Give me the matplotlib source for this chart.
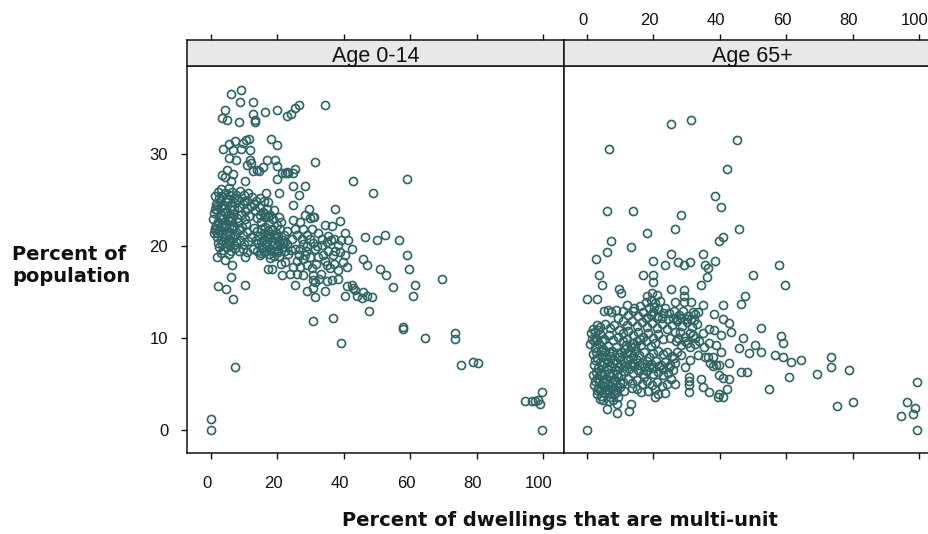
import numpy as np
import matplotlib
matplotlib.use("Agg")
import matplotlib.pyplot as plt
from matplotlib.transforms import ScaledTranslation

plt.rcParams['font.family'] = ['Liberation Sans', 'DejaVu Sans']

panel_titles = ["Age 0-14", "Age 65+"]
x_ticks = [0, 20, 40, 60, 80, 100]
y_ticks = [0, 10, 20, 30]
x_label = "Percent of dwellings that are multi-unit"
y_label = "Percent of\npopulation"

# (percent multi-unit, percent of population)
age_0_14 = [
    (5.9, 36.5), (9.0, 37.0), (8.9, 35.7), (12.6, 35.7), (4.2, 34.8), (3.4, 33.9), (4.9, 33.7),
    (8.4, 33.5), (12.6, 34.4), (13.3, 33.5), (13.4, 33.7), (16.3, 34.6), (19.9, 34.8), (22.8, 34.1),
    (24.1, 34.4), (25.4, 35.0), (26.6, 35.4), (34.3, 35.4), (18.1, 31.7), (20.0, 31.0), (3.5, 30.6),
    (5.5, 31.1), (7.2, 31.4), (9.7, 31.2), (10.7, 31.5), (11.4, 31.7), (9.2, 30.6), (11.7, 30.5),
    (6.7, 30.5), (5.5, 29.6), (7.5, 29.4), (11.7, 29.4), (16.9, 29.4), (19.3, 29.4), (31.3, 29.1),
    (19.8, 28.7), (11.0, 28.8), (12.0, 29.0), (13.8, 28.3), (12.6, 28.2), (14.6, 28.2), (15.6, 28.6),
    (22.3, 27.9), (21.4, 28.0), (22.8, 28.1), (23.2, 27.9), (24.6, 28.0), (25.2, 28.4), (4.7, 28.3),
    (3.2, 27.7), (6.7, 27.8), (4.2, 27.5), (5.9, 27.1), (10.2, 27.1), (19.8, 27.3), (42.8, 27.1),
    (59.1, 27.3), (48.9, 25.8), (24.8, 26.5), (28.3, 26.5), (26.5, 25.6), (20.5, 25.8), (16.5, 25.8),
    (24.8, 24.5), (29.5, 24.0), (37.3, 24.0), (30.8, 23.2), (38.9, 22.7), (34.3, 22.3), (36.5, 22.2),
    (46.4, 21.0), (49.9, 20.6), (52.4, 21.2), (56.6, 20.6), (1.2, 21.7), (1.9, 18.8), (4.2, 18.5),
    (6.2, 17.9), (10.2, 18.8), (6.0, 16.6), (2.2, 15.6), (4.4, 15.3), (10.2, 15.7), (6.5, 14.2),
    (7.2, 6.8), (0.0, 1.1), (0.0, 0.0), (99.6, 4.1), (94.6, 3.1), (96.6, 3.1), (97.6, 3.1),
    (98.6, 3.2), (99.1, 2.8), (99.6, 0.0), (73.5, 10.5), (73.5, 9.9), (75.3, 7.0), (78.8, 7.4),
    (80.3, 7.2), (64.5, 10.0), (57.9, 11.0), (57.9, 11.2), (39.2, 9.4), (30.8, 11.8), (36.7, 12.2),
    (47.7, 12.9), (69.5, 16.4), (61.5, 15.7), (60.9, 14.6), (59.7, 17.5), (59.1, 19.0), (54.9, 15.5),
    (50.9, 17.5), (52.6, 16.8), (47.1, 17.9), (45.7, 18.6), (48.4, 14.4), (40.4, 14.6), (40.9, 15.6),
    (42.4, 15.7), (43.4, 15.2), (43.9, 14.5), (45.4, 14.3), (45.9, 15.0), (46.9, 14.6), (42.8, 15.4),
    (34.3, 15.1), (31.3, 14.4), (28.8, 15.1), (25.3, 15.7), (34.8, 16.2), (38.2, 16.4), (30.8, 16.8),
    (31.3, 16.1), (30.8, 15.4), (21.3, 16.8), (17.3, 17.5), (18.3, 17.5), (23.8, 17.0), (40.4, 21.4),
    (41.4, 20.6), (39.3, 20.6), (42.4, 19.7), (40.4, 19.0), (39.9, 18.3), (40.9, 17.7), (38.3, 17.4),
    (36.4, 16.3), (34.8, 17.9), (35.8, 17.6), (30.8, 16.3), (27.8, 16.8), (25.8, 17.0), (24.8, 17.7),
    (26.8, 17.7), (28.8, 17.9), (27.8, 18.6), (29.8, 18.8), (32.3, 18.8), (33.8, 19.0), (35.3, 19.4),
    (37.3, 19.5), (31.3, 19.7), (26.8, 19.7), (25.3, 19.7), (24.3, 20.8), (27.3, 20.8), (29.8, 20.8),
    (33.3, 20.8), (36.3, 20.6), (25.3, 21.9), (27.8, 21.9), (30.3, 21.9), (32.3, 21.4), (29.8, 23.0),
    (28.3, 23.4), (31.0, 23.2), (24.8, 22.8), (26.8, 22.6), (28.2, 19.0), (29.0, 20.0), (26.0, 18.4),
    (22.4, 18.2), (23.2, 19.1), (21.0, 18.0), (19.0, 18.9), (20.3, 19.3), (17.8, 18.7), (16.2, 19.4),
    # dense block
    (1.1, 25.4), (2.0, 25.9), (3.1, 26.2), (4.2, 25.8), (5.3, 26.3), (6.4, 25.9), (7.6, 25.5),
    (8.7, 26.0), (9.9, 25.6), (11.2, 25.8), (12.4, 25.3), (13.6, 24.9), (14.9, 25.2), (1.4, 24.6),
    (2.6, 24.9), (3.7, 24.5), (4.9, 24.8), (6.1, 24.3), (7.3, 24.7), (8.5, 24.2), (9.6, 24.6),
    (10.8, 24.1), (12.0, 24.4), (13.2, 23.9), (14.4, 24.2), (15.6, 23.7), (16.8, 24.0), (17.9, 23.4),
    (0.8, 23.6), (1.9, 23.9), (3.1, 23.4), (4.3, 23.7), (5.5, 23.2), (6.7, 23.5), (7.8, 23.0),
    (9.1, 23.4), (10.3, 22.9), (11.4, 23.3), (14.0, 23.0), (15.2, 22.6), (16.4, 23.1), (17.6, 22.5),
    (18.8, 22.9), (19.9, 22.3), (0.7, 22.9), (2.2, 22.6), (3.4, 22.9), (4.6, 22.4), (5.9, 22.7),
    (7.1, 22.2), (8.3, 22.6), (9.5, 22.1), (10.7, 22.4), (15.0, 21.8), (16.2, 22.1), (17.3, 21.6),
    (18.5, 21.9), (19.7, 21.4), (20.9, 21.8), (22.0, 21.2), (1.2, 22.0), (2.5, 21.7), (3.6, 22.1),
    (4.9, 21.5), (6.2, 21.8), (7.4, 21.3), (8.6, 21.7), (9.8, 21.2), (11.0, 21.5), (12.2, 21.0),
    (14.6, 21.1), (15.8, 20.7), (17.0, 21.0), (18.2, 20.5), (19.4, 20.9), (20.6, 20.4), (21.8, 20.7),
    (23.0, 20.2), (1.7, 21.0), (2.9, 20.7), (4.1, 21.0), (5.3, 20.5), (6.5, 20.9), (7.7, 20.4),
    (8.9, 20.7), (10.1, 20.2), (11.3, 20.5), (14.2, 20.3), (15.4, 19.9), (16.6, 20.2), (17.8, 19.7),
    (19.0, 20.1), (20.2, 19.6), (21.4, 19.9), (2.4, 19.9), (3.6, 19.6), (4.8, 19.9), (6.0, 19.5),
    (7.2, 19.8), (8.4, 19.4), (9.6, 19.7), (10.8, 19.3), (13.9, 19.5), (15.0, 19.2), (1.3, 24.0),
    (5.1, 25.1), (8.1, 25.0), (11.0, 24.9), (0.9, 21.4), (3.0, 19.2), (5.5, 19.1), (13.0, 22.0),
    (13.5, 20.6), (12.8, 19.7), (14.8, 19.0), (7.0, 24.0), (10.2, 23.8), (15.9, 24.9), (17.2, 24.8),
    (18.9, 23.9), (20.4, 23.2), (21.2, 22.6), (22.8, 21.6), (24.0, 19.6), (22.2, 19.4),
    (2.3, 25.2), (3.4, 25.4), (4.5, 25.2), (5.8, 25.5), (6.9, 25.2), (1.8, 24.3), (3.0, 24.2),
    (4.2, 24.1), (5.6, 24.0), (2.4, 23.1), (3.7, 23.0), (5.0, 22.9), (6.2, 23.0), (1.6, 22.3),
    (2.9, 22.2), (4.1, 22.1), (5.4, 22.1), (6.6, 22.2), (1.9, 21.4), (3.2, 21.3), (4.4, 21.3),
    (5.7, 21.2), (7.0, 21.1), (2.2, 20.3), (3.4, 20.2), (4.6, 20.3), (5.8, 20.1), (7.1, 20.1),
    (16.0, 21.4), (17.6, 21.3), (19.0, 21.2), (20.2, 21.1), (15.2, 20.4), (16.9, 20.4), (18.5, 20.1),
    (20.0, 20.0), (21.6, 20.3), (16.1, 19.3), (17.4, 19.1), (18.9, 19.5), (20.6, 18.9), (22.3, 20.4),
    (14.8, 23.4), (16.2, 23.5), (17.3, 23.1), (13.8, 21.6), (12.9, 24.6), (10.0, 24.9), (26.0, 21.2),
    (27.6, 20.2), (29.0, 21.2), (26.4, 19.0), (28.6, 19.4), (30.8, 20.3), (31.9, 20.0), (33.4, 20.1),
    (34.8, 20.4), (35.2, 21.1), (37.2, 20.8), (38.4, 20.1), (39.0, 19.3), (36.8, 19.0), (34.4, 18.4),
    (31.6, 18.0), (30.4, 17.6), (33.2, 17.0), (32.4, 16.4), (37.2, 18.0),
]

age_65 = [
    (25.3, 33.3), (31.4, 33.7), (45.3, 31.5), (6.7, 30.6), (42.1, 28.4), (38.5, 25.4), (40.3, 24.2),
    (6.1, 23.8), (13.9, 23.8), (28.4, 23.4), (26.5, 21.9), (18.1, 21.4), (45.9, 21.9), (40.9, 21.0),
    (39.7, 20.5), (7.3, 20.5), (13.3, 19.9), (6.1, 19.3), (25.3, 19.1), (34.8, 19.1), (2.6, 18.6),
    (19.9, 18.4), (23.5, 17.9), (27.4, 18.2), (29.1, 17.9), (30.9, 18.2), (35.4, 17.9), (36.4, 17.6),
    (38.6, 18.4), (57.8, 17.9), (50.0, 16.8), (59.7, 15.7), (3.7, 16.8), (4.4, 15.7), (16.9, 16.8),
    (19.9, 16.8), (19.9, 16.1), (36.2, 16.6), (34.4, 15.7), (25.4, 15.3), (29.1, 15.2), (29.1, 14.5),
    (29.1, 13.9), (9.7, 15.3), (10.4, 14.9), (0.1, 14.2), (3.1, 14.2), (47.7, 14.6), (46.5, 13.7),
    (40.9, 13.6), (34.9, 13.6), (31.4, 13.9), (26.4, 13.9), (38.4, 12.6), (40.9, 12.0), (42.9, 11.6),
    (43.4, 10.6), (40.4, 10.3), (52.3, 11.1), (46.9, 10.0), (45.7, 8.9), (48.9, 8.3), (50.7, 9.2),
    (52.3, 8.5), (58.5, 10.2), (59.1, 9.4), (56.7, 8.1), (59.1, 7.9), (61.5, 7.4), (64.5, 7.6),
    (73.5, 7.9), (73.5, 6.8), (78.9, 6.5), (69.3, 6.1), (60.9, 5.7), (54.7, 4.4), (46.5, 6.3),
    (48.1, 6.3), (42.9, 7.2), (42.9, 5.5), (42.3, 4.4), (75.3, 2.6), (80.1, 3.0), (99.3, 5.2),
    (96.3, 3.0), (98.7, 2.4), (98.1, 1.7), (94.5, 1.5), (99.3, 0.0), (0.0, 0.0), (40.9, 3.6),
    (39.4, 3.6), (39.9, 3.9), (36.9, 4.1), (34.9, 4.6), (34.4, 5.5), (30.7, 4.1), (30.7, 5.7),
    (30.7, 5.3), (30.7, 4.9), (26.4, 5.0), (25.4, 5.5), (21.5, 3.9), (20.4, 3.5), (16.4, 4.1),
    (13.3, 2.8), (12.7, 2.0), (9.1, 1.8), (9.1, 2.8), (6.1, 2.2), (4.9, 3.2), (39.9, 5.9),
    (40.9, 5.6), (38.9, 7.0), (39.9, 7.0), (37.9, 7.9), (36.4, 7.9), (33.4, 8.1), (30.9, 7.6),
    (40.4, 8.5), (38.9, 9.2), (29.4, 6.8), (34.9, 10.5), (36.9, 11.0), (38.4, 10.9), (32.4, 12.6),
    (33.4, 12.8), (37.0, 7.2), (38.0, 6.9), (35.6, 7.9), (36.8, 9.4), (35.1, 9.0), (33.6, 9.6),
    # dense block
    (18.2, 14.6), (19.6, 14.9), (21.0, 14.7), (17.8, 13.9), (19.2, 14.1), (20.6, 13.8), (22.0, 14.0),
    (12.0, 13.6), (14.2, 13.2), (23.4, 13.2), (24.8, 12.7), (11.0, 12.9), (12.5, 12.5), (14.0, 12.9),
    (15.5, 12.4), (17.0, 12.8), (18.5, 12.3), (20.0, 12.8), (21.5, 12.4), (23.0, 12.7), (26.2, 12.9),
    (27.6, 12.5), (29.0, 12.9), (30.4, 12.4), (31.8, 12.8), (7.4, 12.8), (5.2, 12.9), (9.4, 12.2),
    (10.8, 11.8), (12.2, 11.4), (13.7, 11.8), (15.2, 11.3), (16.7, 11.7), (18.2, 11.2), (19.7, 11.6),
    (21.2, 11.1), (22.7, 11.5), (24.2, 11.0), (25.7, 11.4), (27.2, 11.8), (28.7, 11.3), (30.2, 11.7),
    (31.7, 11.2), (33.0, 11.5), (3.0, 11.4), (1.9, 11.0), (4.0, 11.2), (5.4, 11.5), (6.8, 11.1),
    (8.2, 11.4), (9.6, 10.9), (11.0, 10.5), (12.5, 10.7), (14.0, 10.3), (15.5, 10.6), (17.0, 10.1),
    (18.5, 10.5), (20.0, 10.0), (21.5, 10.4), (23.0, 9.9), (25.0, 10.0), (28.0, 10.6), (29.5, 10.1),
    (31.0, 10.5), (32.5, 10.0), (1.3, 10.5), (2.6, 10.0), (3.9, 10.4), (5.2, 9.9), (6.6, 10.3),
    (8.0, 9.8), (9.4, 10.1), (10.8, 9.6), (12.2, 9.9), (13.6, 9.4), (15.0, 9.7), (16.4, 9.2),
    (17.8, 9.6), (19.2, 9.1), (20.6, 9.4), (26.8, 9.7), (28.2, 9.2), (29.6, 9.6), (31.0, 9.0),
    (32.4, 9.3), (1.0, 9.3), (2.3, 8.9), (3.6, 9.3), (4.9, 8.8), (6.2, 9.1), (7.5, 8.6),
    (8.8, 9.0), (10.2, 8.5), (11.6, 8.8), (13.0, 8.3), (14.4, 8.6), (15.8, 8.1), (17.2, 8.4),
    (18.6, 7.9), (20.0, 8.3), (21.4, 8.6), (22.8, 8.2), (24.2, 8.5), (25.6, 8.0), (27.0, 8.4),
    (28.4, 8.1), (1.8, 8.2), (3.1, 7.8), (4.4, 8.1), (5.7, 7.7), (7.0, 8.0), (8.3, 7.6),
    (9.6, 7.9), (11.0, 7.5), (12.4, 7.7), (13.8, 7.3), (15.2, 7.6), (16.6, 7.2), (18.0, 7.5),
    (19.4, 7.1), (20.8, 7.5), (22.2, 7.0), (23.6, 7.4), (25.0, 7.0), (26.4, 7.3), (2.0, 7.0),
    (3.3, 6.7), (4.6, 7.0), (5.9, 6.6), (7.2, 6.9), (8.5, 6.5), (9.8, 6.8), (11.2, 6.4),
    (12.6, 6.6), (14.0, 6.2), (15.4, 6.5), (16.8, 6.1), (18.2, 6.4), (19.8, 6.0), (21.4, 6.3),
    (23.0, 5.9), (1.7, 5.9), (3.0, 5.6), (4.3, 5.9), (5.6, 5.5), (6.9, 5.8), (8.2, 5.4),
    (9.5, 5.7), (10.9, 5.2), (12.3, 5.5), (13.7, 5.1), (15.1, 5.4), (16.6, 5.0), (18.0, 5.3),
    (19.5, 4.9), (21.0, 5.2), (22.5, 4.7), (2.1, 4.9), (3.4, 4.5), (4.7, 4.8), (6.0, 4.4),
    (7.3, 4.7), (8.6, 4.3), (9.9, 4.6), (11.2, 4.2), (13.6, 4.5), (15.0, 4.4), (18.4, 4.2),
    (2.9, 3.9), (4.2, 3.7), (5.5, 4.0), (6.8, 3.6), (8.1, 3.9), (9.4, 3.6), (3.8, 3.3),
    (6.6, 3.1), (7.9, 3.2), (23.5, 4.0), (24.4, 6.2), (6.4, 13.0), (8.8, 13.0), (16.0, 13.5),
    (2.4, 7.6), (3.9, 7.4), (5.1, 7.3), (6.4, 7.4), (7.8, 7.2), (9.1, 7.3), (10.4, 7.1),
    (2.7, 6.3), (4.0, 6.2), (5.3, 6.1), (6.5, 6.2), (7.8, 6.0), (9.1, 6.1), (10.4, 5.9),
    (2.5, 5.3), (3.7, 5.2), (5.0, 5.1), (6.3, 5.0), (7.6, 5.2), (8.9, 5.0), (10.1, 5.1),
    (3.1, 4.3), (4.3, 4.3), (5.4, 4.6), (6.7, 4.2), (8.0, 4.5), (9.2, 4.1), (11.5, 6.9),
    (12.9, 7.1), (14.3, 6.9), (15.7, 7.0), (17.1, 6.8), (18.6, 6.8), (20.0, 6.7), (21.6, 6.9),
    (23.0, 6.6), (24.6, 6.8), (25.8, 6.5), (26.2, 7.8), (12.2, 8.3), (13.8, 8.0), (2.8, 8.5),
    (4.1, 8.6), (5.4, 8.4), (6.6, 8.5), (9.2, 8.3), (2.0, 9.6), (3.1, 9.8), (4.4, 9.6),
    (1.4, 9.9), (2.3, 10.6), (3.4, 10.8), (17.8, 12.1), (19.2, 12.5), (21.0, 12.2), (22.6, 12.1),
    (24.4, 12.0), (25.8, 12.2), (27.0, 12.0), (28.4, 12.2), (30.0, 12.0), (31.2, 12.0), (32.2, 11.9),
    (18.8, 13.2), (20.2, 13.3), (21.4, 13.1), (26.6, 10.6), (27.4, 10.0), (30.2, 9.4), (31.8, 10.3),
    (11.8, 9.2), (13.2, 9.0), (14.6, 9.1), (16.0, 9.9), (24.0, 5.0), (20.6, 4.4), (17.2, 5.7),
]

panels = [age_0_14, age_65]
point_colour = "#2f6464"
dark = "#111111"

W, H = 929, 534
PANEL_W, PANEL_H, STRIP_H = 377, 387, 26
PANEL_BOTTOM = H - 453
fig = plt.figure(figsize=(W / 100, H / 100), dpi=100)

for i, (title, points) in enumerate(zip(panel_titles, panels)):
    left = 187 + i * PANEL_W
    ax = fig.add_axes([left / W, PANEL_BOTTOM / H, PANEL_W / W, PANEL_H / H])
    strip = fig.add_axes([left / W, (PANEL_BOTTOM + PANEL_H) / H, PANEL_W / W, STRIP_H / H])

    pts = np.array(points)
    ax.plot(pts[:, 0], pts[:, 1], "o", ms=5.8, mfc="none", mec=point_colour, mew=1.2, clip_on=False)
    xlim = (-7.2 + i * 0.3, 106.3 + i * 0.3)
    ax.set_xlim(xlim)
    ax.set_ylim(-2.55, 39.6)
    ax.set_xticks(x_ticks)
    ax.set_yticks(y_ticks)
    ax.tick_params(axis="x", length=4.5, width=1, color=dark, labelsize=12, pad=12,
                   labelbottom=i == 0, labelcolor=dark)
    ax.tick_params(axis="y", length=4.5, width=1, color=dark, labelsize=12, pad=9,
                   left=i == 0, labelleft=i == 0, labelcolor=dark)

    strip.set_facecolor("#e8e8e8")
    strip.set_xlim(xlim)
    strip.set_ylim(0, 1)
    strip.set_yticks([])
    strip.set_xticks(x_ticks)
    strip.xaxis.tick_top()
    strip.tick_params(axis="x", length=4.5, width=1, color=dark, labelsize=12, pad=4,
                      labeltop=i == 1, labelcolor=dark)
    strip.text(0.5, 0.38, title, transform=strip.transAxes, ha="center", va="center",
               fontsize=15.5, color=dark)

    for a in (ax, strip):
        for s in a.spines.values():
            s.set_linewidth(1.1)
            s.set_color(dark)

    # the labels in the picture sit a little left of their ticks
    nudge = ScaledTranslation(-3 / 72, 0, fig.dpi_scale_trans)
    for lab in ax.get_xticklabels() + strip.get_xticklabels():
        lab.set_transform(lab.get_transform() + nudge)

fig.text(12 / W, 1 - 265 / H, y_label, fontsize=14, fontweight="bold", color=dark,
         family="DejaVu Sans", ha="left", va="center", linespacing=1.2)
fig.text(560 / W, 1 - 521 / H, x_label, fontsize=14, fontweight="bold", color=dark,
         family="DejaVu Sans", ha="center", va="center")

fig.savefig("out.png", dpi=100)
